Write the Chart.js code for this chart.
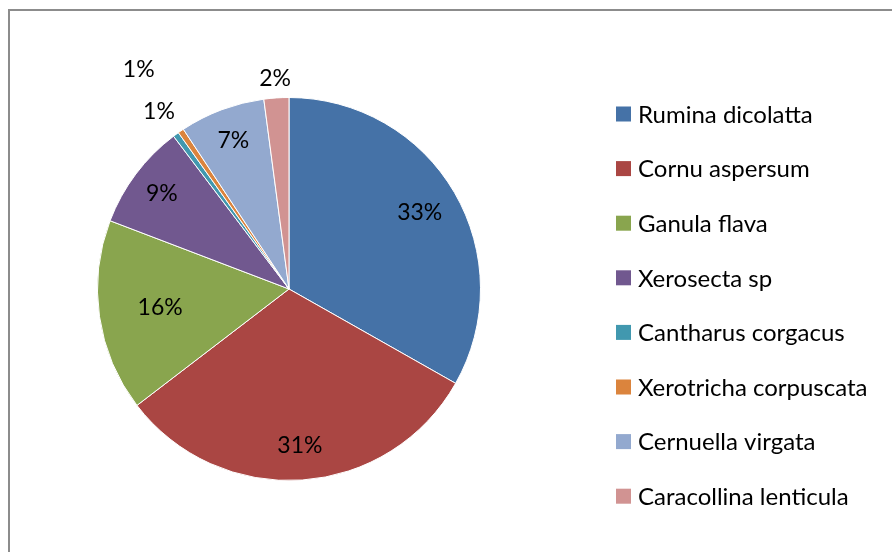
<!DOCTYPE html>
<html>
<head>
<meta charset="utf-8">
<script src="https://cdn.jsdelivr.net/npm/chart.js@4/dist/chart.umd.min.js"></script>
<style>
  html, body { margin: 0; padding: 0; background: #fff; }
  #wrap { position: relative; width: 892px; height: 552px; }
  #frame { position: absolute; left: 8px; top: 9px; width: 900px; height: 560px; border: 2px solid #8c8c8c; box-sizing: border-box; }
</style>
</head>
<body>
<div id="wrap">
  <div id="frame"></div>
  <canvas id="pieChart" width="892" height="552" style="position:absolute;left:0;top:0"></canvas>
</div>
<script>
// species and their share (%)
const species = ['Rumina dicolatta', 'Cornu aspersum', 'Ganula flava', 'Xerosecta sp',
                 'Cantharus corgacus', 'Xerotricha corpuscata', 'Cernuella virgata', 'Caracollina lenticula'];
const shares = [33.2, 31.4, 16.2, 8.9, 0.5, 0.5, 7.2, 2.1];
const percentLabels = ['33%', '31%', '16%', '9%', '1%', '1%', '7%', '2%'];

const sliceColors = ['#4572A7', '#AA4643', '#89A54E', '#71588F', '#4198AF', '#DB843D', '#93A9CF', '#D19392'];
// how far out each label sits, as a fraction of the radius
const labelRadius = [0.79, 0.82, 0.68, 0.83, 1.15, 1.39, 0.83, 1.10];

const FONT = 'Lato, "Open Sans", sans-serif';

// percentage labels placed along each slice's middle angle
const sliceLabels = {
    id: 'sliceLabels',
    afterDatasetsDraw(chart) {
        const ctx = chart.ctx;
        const arcs = chart.getDatasetMeta(0).data;
        ctx.save();
        ctx.font = '23px ' + FONT;
        ctx.fillStyle = '#000';
        ctx.textAlign = 'center';
        ctx.textBaseline = 'middle';
        arcs.forEach((arc, i) => {
            const mid = (arc.startAngle + arc.endAngle) / 2;
            const r = arc.outerRadius * labelRadius[i];
            ctx.fillText(percentLabels[i], arc.x + Math.cos(mid) * r, arc.y + Math.sin(mid) * r);
        });
        ctx.restore();
    }
};

// legend on the right, one row per species
const sideLegend = {
    id: 'sideLegend',
    afterDraw(chart) {
        const ctx = chart.ctx;
        ctx.save();
        ctx.font = '24px ' + FONT;
        ctx.textBaseline = 'middle';
        species.forEach((name, i) => {
            const y = 114 + i * 54.6;
            ctx.fillStyle = sliceColors[i];
            ctx.fillRect(616, y - 7.5, 15, 15);
            ctx.fillStyle = '#000';
            ctx.fillText(name, 638, y + 1);
        });
        ctx.restore();
    }
};

const pieCtx = document.getElementById('pieChart').getContext('2d');
const pieChart = new Chart(pieCtx, {
    type: 'pie',
    data: {
        labels: species,
        datasets: [{
            data: shares,
            backgroundColor: sliceColors,
            borderColor: '#ffffff',
            borderWidth: 1
        }]
    },
    options: {
        responsive: false,
        animation: false,
        layout: { padding: { left: 97, top: 97, right: 411, bottom: 71 } },
        plugins: {
            legend: { display: false },
            tooltip: { enabled: false }
        }
    },
    plugins: [sliceLabels, sideLegend]
});
</script>
</body>
</html>
